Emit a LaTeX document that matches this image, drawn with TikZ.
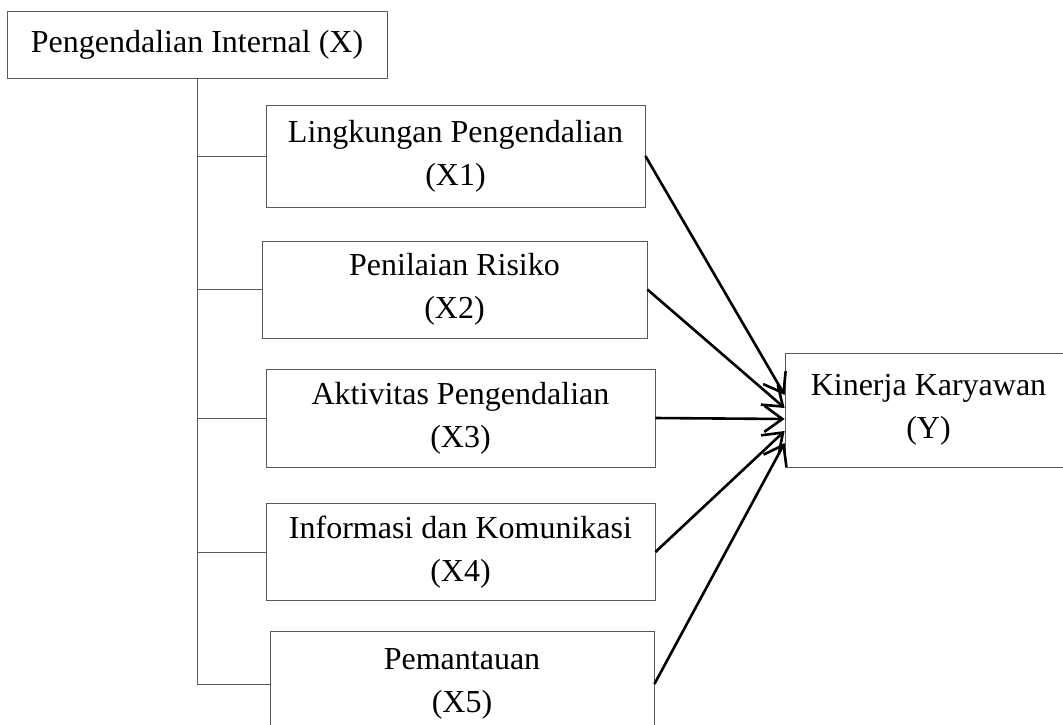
\documentclass[tikz,border=0pt]{standalone}
\usepackage{fontspec}
\setmainfont{Liberation Serif}
\usetikzlibrary{arrows.meta}

\begin{document}
\begin{tikzpicture}[x=1pt, y=-1pt,
        kotak/.style={draw=black!65, line width=0.8pt, align=center, inner sep=0pt,
            font=\fontsize{32}{43}\selectfont},
        cabang/.style={draw=black!65, line width=0.8pt},
        panah/.style={line width=2.6pt, -{Straight Barb[length=18pt,width=26pt]}}]
        \useasboundingbox (0,0) rectangle (1063,724);
        % variabel X
        \node [kotak, minimum width=380pt, minimum height=67pt] (X) at (197,44.5) {Pengendalian Internal (X)};
        % sub variabel
        \node [kotak, minimum width=379pt, minimum height=102pt] (X1) at (455.5,156) {Lingkungan Pengendalian\\(X1)};
        \node [kotak, minimum width=385pt, minimum height=97pt] (X2) at (454.5,289.5) {Penilaian Risiko\\(X2)};
        \node [kotak, minimum width=389pt, minimum height=98pt] (X3) at (460.5,418) {Aktivitas Pengendalian\\(X3)};
        \node [kotak, minimum width=389pt, minimum height=97pt] (X4) at (460.5,552) {Informasi dan Komunikasi\\(X4)};
        \node [kotak, minimum width=384pt, minimum height=106pt] (X5) at (462,684) {Pemantauan\\(X5)};
        % variabel Y
        \node [kotak, minimum width=287pt, minimum height=114pt] (Y) at (928.5,410) {Kinerja Karyawan\\(Y)};
        % garis cabang
        \draw [cabang] (X.south) |- (X1.west);
        \draw [cabang] (X.south) |- (X2.west);
        \draw [cabang] (X.south) |- (X3.west);
        \draw [cabang] (X.south) |- (X4.west);
        \draw [cabang] (X.south) |- (X5.west);
        % panah ke Y
        \draw [panah] (X1.east) -- ([yshift=15pt]Y.west);
        \draw [panah] (X2.east) -- ([yshift=2pt]Y.west);
        \draw [panah] (X3.east) -- ([yshift=-9pt]Y.west);
        \draw [panah] (X4.east) -- ([yshift=-21pt]Y.west);
        \draw [panah] (X5.east) -- ([yshift=-33pt]Y.west);
    \end{tikzpicture}
\end{document}
